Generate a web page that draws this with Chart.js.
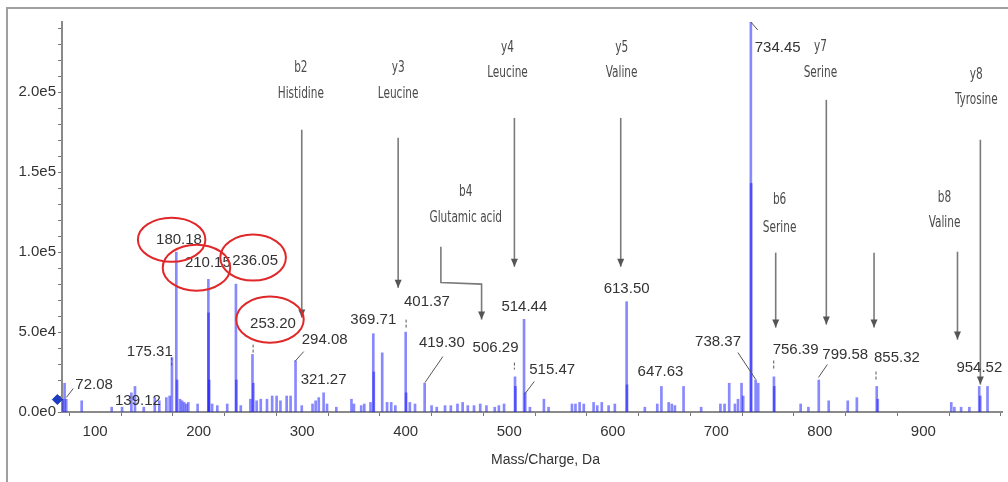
<!DOCTYPE html>
<html>
<head>
<meta charset="utf-8">
<script src="https://cdn.jsdelivr.net/npm/chart.js@4.4.1/dist/chart.umd.min.js"></script>
<style>
    html, body { margin: 0; padding: 0; background: #fff; overflow: hidden; }
    #wrap { position: relative; width: 1008px; height: 482px; }
    #frame { position: absolute; left: 6px; top: 7px; width: 1100px; height: 600px;
             border-top: 2px solid #a0a0a0; border-left: 2px solid #a0a0a0; }
    canvas { position: absolute; left: 0; top: 0; }
</style>
</head>
<body>
<div id="wrap">
    <div id="frame"></div>
    <canvas id="spectrum" width="1008" height="482"></canvas>
</div>
<script>
// peak list (m/z, intensity in counts)
const mz = [69.0, 70.5, 72.1, 87, 116, 126, 135, 138.5, 147, 157.6, 162, 168.8, 172, 174.2, 178.4, 179.2,
    182, 184, 186, 188, 190, 199, 209.4, 209.6, 210.2, 213, 218, 227.6, 236, 236.4, 240.7, 250, 252, 252.8,
    256, 260, 266, 271, 275.3, 279, 285, 288.8, 293.6, 299.6, 310, 313, 316, 320.7, 324, 333, 347.6, 350,
    357, 360, 366, 368.7, 369.2, 377.3, 382, 386, 390, 400, 400.4, 404, 409, 418.3, 425, 430, 438, 443.6,
    450, 455, 460, 466, 472, 478, 486, 490, 495, 505.6, 506, 514.3, 515.5, 520, 533.5, 538, 560.6, 564,
    568, 572, 581.5, 585, 589.4, 596, 602, 613.4, 613.8, 631, 643, 647, 654, 657, 660, 668.4, 685.4, 704,
    708, 712.5, 718, 721, 724.4, 726, 733.4, 733.7, 738, 740.5, 755.7, 756, 781.5, 789, 799, 808.6, 827,
    835.8, 855, 856, 927, 930, 936.5, 944.5, 954, 955, 962];
const intensity = [8000, 18000, 8000, 7000, 3000, 3000, 12000, 16000, 3000, 9000, 7000, 9000, 10000, 34000, 100000, 20000,
    8000, 7000, 6000, 5000, 6000, 5000, 83000, 62000, 20000, 5000, 4000, 5000, 80000, 20000, 4000, 8000, 36000, 18000,
    7000, 8000, 8000, 10000, 10000, 7000, 10000, 10000, 32000, 4000, 5000, 7000, 9000, 12000, 5000, 3000, 8000, 5000,
    4000, 5000, 6000, 49000, 25000, 37000, 6000, 6000, 4000, 50000, 12000, 6000, 5000, 18000, 4000, 3000, 4000, 4000,
    5000, 6000, 4000, 4000, 5000, 4000, 3000, 4000, 5000, 22000, 16000, 58000, 12000, 3000, 8000, 3000, 5000, 5000,
    6000, 5000, 6000, 4000, 6000, 4000, 5000, 69000, 17000, 3000, 5000, 16000, 6000, 5000, 4000, 16000, 3000, 5000,
    5000, 18000, 5000, 8000, 18000, 10000, 244000, 143000, 20000, 18000, 22000, 16000, 5000, 3000, 20000, 7000, 7000,
    9000, 16000, 8000, 6000, 3000, 3000, 3000, 16000, 10000, 16000];

// axis ticks
const xTicks = [100, 150, 200, 250, 300, 350, 400, 450, 500, 550, 600, 650, 700, 750, 800, 850, 900, 950];
const yTicks = [0, 10000, 20000, 30000, 40000, 50000, 60000, 70000, 80000, 90000, 100000, 110000, 120000,
    130000, 140000, 150000, 160000, 170000, 180000, 190000, 200000, 210000, 220000, 230000, 240000];

// labelled peaks: text and where the text sits (m/z, counts)
const peakText = ['72.08', '139.12', '175.31', '180.18', '210.15', '236.05', '253.20', '294.08', '321.27',
    '369.71', '401.37', '419.30', '506.29', '514.44', '515.47', '613.50', '647.63', '734.45', '738.37',
    '756.39', '799.58', '855.32', '954.52'];
const peakTextMz = [99, 141.3, 152.8, 181, 208.9, 254.5, 271.8, 321.7, 320.7, 368.7, 420.5, 434.9, 486.8,
    514.6, 541.5, 613.4, 646.1, 759.3, 701.7, 776.6, 824.6, 874.5, 954.1];
const peakTextInt = [17200, 7200, 37800, 107800, 93400, 94800, 55300, 45300, 20300, 57800, 69000, 43400, 40300,
    65900, 26600, 77200, 25300, 227800, 44100, 39100, 35900, 34100, 27800];

// leader lines from label to peak
const leaders = [
    [[72.2, 9100], [78.9, 14700]],
    [[292.9, 31600], [301.5, 37800]],
    [[418.6, 18400], [435.9, 34700]],
    [[514.6, 10900], [524.2, 19100]],
    [[738.2, 20300], [720.9, 37200]],
    [[798.7, 21600], [807.3, 29700]],
    [[733.4, 244000], [740.1, 239000]]
];
// short dashed marks under some labels
const dashMarks = [[173.9, 34100, 29100], [252.6, 42200, 35900], [400.4, 57800, 52800],
    [505, 30900, 26600], [755.5, 32200, 26600], [854.3, 25300, 20300]];

// fragment ion annotations
const ionName = ['b2', 'y3', 'y4', 'y5', 'b4', 'b6', 'y7', 'b8', 'y8'];
const ionResidue = ['Histidine', 'Leucine', 'Leucine', 'Valine', 'Glutamic acid', 'Serine', 'Serine', 'Valine', 'Tyrosine'];
const ionMz = [298.7, 392.7, 498.3, 608.6, 458, 761.2, 800.6, 920.5, 951.2];
const ionNameInt = [215300, 215300, 227800, 227800, 137800, 132800, 228400, 134100, 210900];
const ionResInt = [199000, 199000, 212200, 212200, 121600, 115300, 212200, 118400, 195300];
const ionArrows = [
    [[299.6, 176600], [299.6, 59100]],
    [[392.7, 171600], [392.7, 77800]],
    [[505, 184000], [505, 90900]],
    [[607.7, 184000], [607.7, 90900]],
    [[434, 103400], [434, 81000], [473.3, 80000], [473.3, 57800]],
    [[757.4, 99700], [757.4, 52800]],
    [[806.3, 195300], [806.3, 54700]],
    [[852.4, 99700], [852.4, 52800]],
    [[933, 100300], [933, 45300]],
    [[955.1, 170300], [955.1, 17200]]
];
// red circles: centre m/z, centre counts, half width (m/z), half height (counts)
const circles = [[173.9, 107800, 32.6, 13800], [197.9, 90300, 32.6, 14400],
    [252.6, 96600, 31.7, 14400], [268.9, 57800, 32.6, 14400]];

function sciLabel(v) {
    if (v === 0) return '0.0e0';
    const e = Math.floor(Math.log10(v));
    return (v / Math.pow(10, e)).toFixed(1) + 'e' + e;
}

// narrow, tall text like the ion captions in the original
function tallText(ctx, t, x, y) {
    ctx.save();
    ctx.translate(x, y);
    ctx.scale(0.9, 1.2);
    ctx.fillText(t, 0, 0);
    ctx.restore();
}

const annotations = {
    id: 'annotations',
    afterDatasetsDraw(chart) {
        const ctx = chart.ctx;
        const xs = chart.scales.x, ys = chart.scales.y;
        const px = m => xs.getPixelForValue(m);
        const py = v => ys.getPixelForValue(v);
        ctx.save();

        // arrows
        ctx.strokeStyle = '#7a7a7a';
        ctx.fillStyle = '#555';
        ctx.lineWidth = 1.6;
        ionArrows.forEach(path => {
            ctx.beginPath();
            path.forEach((p, i) => i ? ctx.lineTo(px(p[0]), py(p[1])) : ctx.moveTo(px(p[0]), py(p[1])));
            ctx.stroke();
            const end = path[path.length - 1];
            const ex = px(end[0]), ey = py(end[1]);
            ctx.beginPath();
            ctx.moveTo(ex - 3.5, ey - 8);
            ctx.lineTo(ex + 3.5, ey - 8);
            ctx.lineTo(ex, ey);
            ctx.closePath();
            ctx.fill();
        });

        // ion labels
        ctx.fillStyle = '#4a4a4a';
        ctx.textAlign = 'center';
        ctx.textBaseline = 'middle';
        ctx.font = '13px "Liberation Sans Narrow", "DejaVu Sans Condensed", "Liberation Sans", sans-serif';
        ionName.forEach((n, i) => {
            tallText(ctx, n, px(ionMz[i]), py(ionNameInt[i]));
            tallText(ctx, ionResidue[i], px(ionMz[i]), py(ionResInt[i]));
        });

        // leader lines and dashes
        ctx.strokeStyle = '#555';
        ctx.lineWidth = 1;
        leaders.forEach(l => {
            ctx.beginPath();
            ctx.moveTo(px(l[0][0]), py(l[0][1]));
            ctx.lineTo(px(l[1][0]), py(l[1][1]));
            ctx.stroke();
        });
        ctx.setLineDash([3, 2]);
        dashMarks.forEach(d => {
            ctx.beginPath();
            ctx.moveTo(px(d[0]), py(d[1]));
            ctx.lineTo(px(d[0]), py(d[2]));
            ctx.stroke();
        });
        ctx.setLineDash([]);

        // peak labels
        ctx.fillStyle = '#333';
        ctx.font = '15px "Liberation Sans", Arial, sans-serif';
        peakText.forEach((t, i) => ctx.fillText(t, px(peakTextMz[i]), py(peakTextInt[i])));

        // red circles
        ctx.strokeStyle = '#e0282a';
        ctx.lineWidth = 2;
        circles.forEach(c => {
            const cx = px(c[0]), cy = py(c[1]);
            ctx.beginPath();
            ctx.ellipse(cx, cy, px(c[0] + c[2]) - cx, cy - py(c[1] + c[3]), 0, 0, Math.PI * 2);
            ctx.stroke();
        });

        // axis title
        ctx.fillStyle = '#333';
        ctx.font = '14px "Liberation Sans", Arial, sans-serif';
        ctx.fillText('Mass/Charge, Da', px(535), chart.chartArea.bottom + 48);
        ctx.restore();
    }
};

const chart = new Chart(document.getElementById('spectrum'), {
    type: 'bar',
    data: {
        datasets: [
            {
                data: mz.map((m, i) => ({ x: m, y: intensity[i] })),
                backgroundColor: 'rgba(20, 20, 255, 0.5)',
                barThickness: 2,
                grouped: false
            },
            {
                type: 'line',
                data: [{ x: 63.5, y: 7800 }],
                showLine: false,
                pointStyle: 'rectRot',
                pointRadius: 5,
                backgroundColor: '#1c3cc0',
                borderColor: '#1c3cc0',
                clip: false
            }
        ]
    },
    options: {
        responsive: false,
        animation: false,
        devicePixelRatio: 1,
        layout: { padding: { top: 22, right: 0, left: 0, bottom: 0 } },
        plugins: { legend: { display: false }, tooltip: { enabled: false } },
        scales: {
            x: {
                type: 'linear',
                min: 68,
                max: 976,
                offset: false,
                border: { color: '#8a8a8a', width: 2 },
                grid: { drawOnChartArea: false, drawTicks: true, tickLength: 4, color: '#777' },
                ticks: {
                    autoSkip: false,
                    maxRotation: 0,
                    padding: 7,
                    color: '#333',
                    font: { family: '"Liberation Sans", Arial, sans-serif', size: 15 },
                    callback: v => (v % 100 === 0 ? v : '')
                },
                afterBuildTicks: s => { s.ticks = xTicks.map(v => ({ value: v })); },
                afterFit: s => { s.height = 70; }
            },
            y: {
                min: 0,
                max: 244000,
                border: { color: '#8a8a8a', width: 2 },
                grid: { drawOnChartArea: false, drawTicks: true, tickLength: 4, color: '#777' },
                ticks: {
                    autoSkip: false,
                    padding: 2,
                    color: '#333',
                    font: { family: '"Liberation Sans", Arial, sans-serif', size: 15 },
                    callback: v => (v % 50000 === 0 ? sciLabel(v) : '')
                },
                afterBuildTicks: s => { s.ticks = yTicks.map(v => ({ value: v })); },
                afterFit: s => { s.width = 62; }
            }
        }
    },
    plugins: [annotations]
});
</script>
</body>
</html>
